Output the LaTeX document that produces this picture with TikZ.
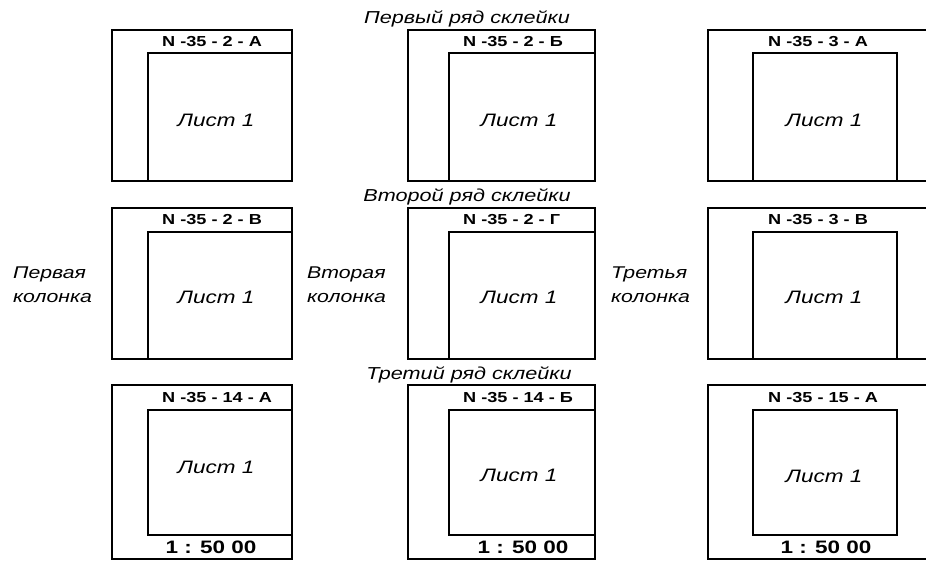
\documentclass[tikz,border=0pt]{standalone}
\usepackage{fontspec}
\setmainfont[FakeStretch=1.25]{Liberation Sans}
\usetikzlibrary{positioning}

\tikzset{
    sheet/.style={draw, line width=2.2pt, inner sep=0pt, outer sep=0pt, anchor=north west},
    nomen/.style={font=\fontsize{14.5}{17}\selectfont\bfseries, anchor=west, inner sep=0pt},
    leaf/.style={font=\fontsize{18}{21}\selectfont\itshape, inner sep=0pt},
    scalebar/.style={font=\fontsize{18}{21}\selectfont\bfseries, inner sep=0pt},
    rowlabel/.style={font=\fontsize{17.3}{20}\selectfont\itshape, anchor=base, inner sep=0pt},
    collabel/.style={font=\fontsize{17}{24}\selectfont\itshape, align=left, anchor=west, inner sep=0pt},
}

\begin{document}
\begin{tikzpicture}[x=1pt, y=-1pt]
    \useasboundingbox (0,0) rectangle (926,560);

    % Row labels
    \node [rowlabel] (row1) at (467,23) {Первый ряд склейки};
    \node [rowlabel] (row2) at (467,201) {Второй ряд склейки};
    \node [rowlabel] (row3) at (469,379) {Третий ряд склейки};

    % Column labels
    \node [collabel] (col1) at (13,285) {Первая\\колонка};
    \node [collabel] (col2) at (307,285) {Вторая\\колонка};
    \node [collabel] (col3) at (611,285) {Третья\\колонка};

    % First row
    \node [sheet, minimum width=180pt, minimum height=151pt] (n2a) at (112,30) {};
    \node [sheet, minimum width=144pt, minimum height=128pt] (n2a_in) at (148,53) {};
    \node [nomen] at ([shift={(14,-11.5)}]n2a_in.north west) {N -35 - 2 - A};
    \node [leaf] at ([shift={(-4,3)}]n2a_in.center) {Лист 1};

    \node [sheet, minimum width=187pt, minimum height=151pt] (n2b) at (408,30) {};
    \node [sheet, minimum width=146pt, minimum height=128pt] (n2b_in) at (449,53) {};
    \node [nomen] at ([shift={(14,-11.5)}]n2b_in.north west) {N -35 - 2 - Б};
    \node [leaf] at ([shift={(-3,3)}]n2b_in.center) {Лист 1};

    \node [sheet, minimum width=224pt, minimum height=151pt] (n3a) at (708,30) {};
    \node [sheet, minimum width=144pt, minimum height=128pt] (n3a_in) at (753,53) {};
    \node [nomen] at ([shift={(15,-11.5)}]n3a_in.north west) {N -35 - 3 - A};
    \node [leaf] at ([shift={(-1,3)}]n3a_in.center) {Лист 1};

    % Second row
    \node [sheet, minimum width=180pt, minimum height=151pt] (n2v) at (112,208) {};
    \node [sheet, minimum width=144pt, minimum height=127pt] (n2v_in) at (148,232) {};
    \node [nomen] at ([shift={(14,-12)}]n2v_in.north west) {N -35 - 2 - В};
    \node [leaf] at ([shift={(-4,2)}]n2v_in.center) {Лист 1};

    \node [sheet, minimum width=187pt, minimum height=151pt] (n2g) at (408,208) {};
    \node [sheet, minimum width=146pt, minimum height=127pt] (n2g_in) at (449,232) {};
    \node [nomen] at ([shift={(14,-12)}]n2g_in.north west) {N -35 - 2 - Г};
    \node [leaf] at ([shift={(-3,2)}]n2g_in.center) {Лист 1};

    \node [sheet, minimum width=224pt, minimum height=151pt] (n3v) at (708,208) {};
    \node [sheet, minimum width=144pt, minimum height=127pt] (n3v_in) at (753,232) {};
    \node [nomen] at ([shift={(15,-12)}]n3v_in.north west) {N -35 - 3 - В};
    \node [leaf] at ([shift={(-1,2)}]n3v_in.center) {Лист 1};

    % Third row
    \node [sheet, minimum width=180pt, minimum height=174pt] (n14a) at (112,385) {};
    \node [sheet, minimum width=144pt, minimum height=125pt] (n14a_in) at (148,410) {};
    \node [nomen] at ([shift={(14,-12.5)}]n14a_in.north west) {N -35 - 14 - A};
    \node [leaf] at ([shift={(-4,-5)}]n14a_in.center) {Лист 1};
    \node [scalebar] at ([shift={(-9,12)}]n14a_in.south) {1 : 50 00};

    \node [sheet, minimum width=187pt, minimum height=174pt] (n14b) at (408,385) {};
    \node [sheet, minimum width=146pt, minimum height=125pt] (n14b_in) at (449,410) {};
    \node [nomen] at ([shift={(14,-12.5)}]n14b_in.north west) {N -35 - 14 - Б};
    \node [leaf] at ([shift={(-3,3)}]n14b_in.center) {Лист 1};
    \node [scalebar] at ([shift={(1,12)}]n14b_in.south) {1 : 50 00};

    \node [sheet, minimum width=224pt, minimum height=174pt] (n15a) at (708,385) {};
    \node [sheet, minimum width=144pt, minimum height=125pt] (n15a_in) at (753,410) {};
    \node [nomen] at ([shift={(15,-12.5)}]n15a_in.north west) {N -35 - 15 - A};
    \node [leaf] at ([shift={(-1,4)}]n15a_in.center) {Лист 1};
    \node [scalebar] at ([shift={(1,12)}]n15a_in.south) {1 : 50 00};
\end{tikzpicture}
\end{document}
